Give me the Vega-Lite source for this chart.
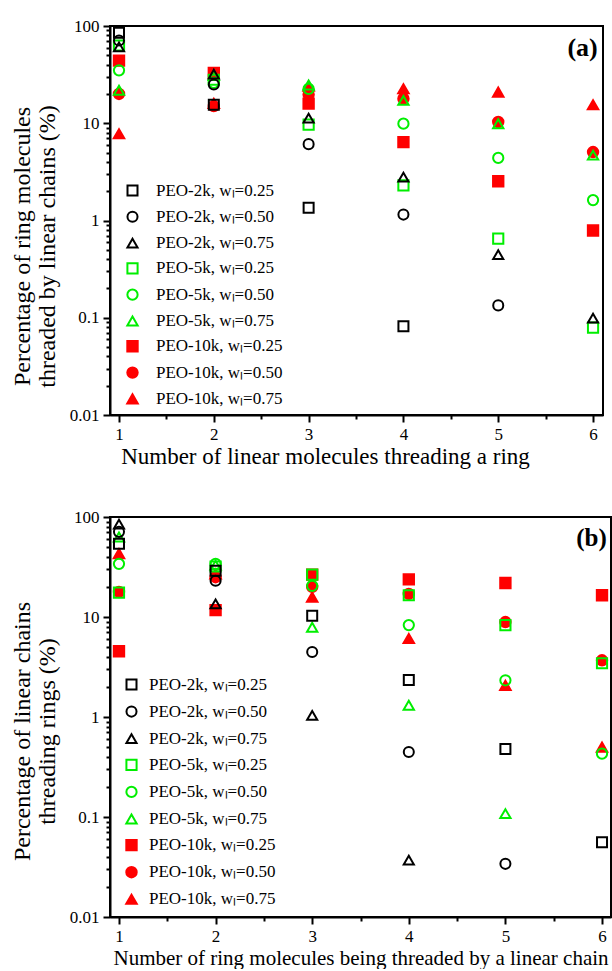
{
  "$schema": "https://vega.github.io/schema/vega-lite/v6.json",
  "background": "white",
  "padding": {"left": 9, "top": 16, "right": 0, "bottom": 0},
  "config": {
    "view": {"stroke": "black", "strokeWidth": 2},
    "font": "Liberation Serif",
    "axis": {"domainColor": "black", "domainWidth": 2, "tickColor": "black", "tickWidth": 2, "labelColor": "black", "titleColor": "black", "labelFont": "Liberation Serif", "titleFont": "Liberation Serif", "labelFontSize": 17, "titleFontWeight": "normal", "grid": false, "labelPadding": 4}
  },
  "resolve": {
    "scale": {"x": "independent", "y": "independent", "shape": "independent", "stroke": "independent", "fill": "independent", "size": "independent"},
    "legend": {"shape": "independent", "stroke": "independent", "fill": "independent", "size": "independent"}
  },
  "datasets": {
    "a": [
      {"series": "PEO-10k, wₗ=0.25", "n": 1, "p": 44}, {"series": "PEO-10k, wₗ=0.25", "n": 2, "p": 33}, {"series": "PEO-10k, wₗ=0.25", "n": 3, "p": 15.9}, {"series": "PEO-10k, wₗ=0.25", "n": 4, "p": 6.4}, {"series": "PEO-10k, wₗ=0.25", "n": 5, "p": 2.53}, {"series": "PEO-10k, wₗ=0.25", "n": 6, "p": 0.79},
      {"series": "PEO-10k, wₗ=0.50", "n": 1, "p": 20}, {"series": "PEO-10k, wₗ=0.50", "n": 2, "p": 15}, {"series": "PEO-10k, wₗ=0.50", "n": 3, "p": 19.7}, {"series": "PEO-10k, wₗ=0.50", "n": 4, "p": 17.9}, {"series": "PEO-10k, wₗ=0.50", "n": 5, "p": 10.3}, {"series": "PEO-10k, wₗ=0.50", "n": 6, "p": 5.06},
      {"series": "PEO-10k, wₗ=0.75", "n": 1, "p": 7.8}, {"series": "PEO-10k, wₗ=0.75", "n": 2, "p": 16}, {"series": "PEO-10k, wₗ=0.75", "n": 3, "p": 24}, {"series": "PEO-10k, wₗ=0.75", "n": 4, "p": 22.6}, {"series": "PEO-10k, wₗ=0.75", "n": 5, "p": 20.9}, {"series": "PEO-10k, wₗ=0.75", "n": 6, "p": 15.5},
      {"series": "PEO-5k, wₗ=0.25", "n": 1, "p": 63}, {"series": "PEO-5k, wₗ=0.25", "n": 2, "p": 28}, {"series": "PEO-5k, wₗ=0.25", "n": 3, "p": 9.7}, {"series": "PEO-5k, wₗ=0.25", "n": 4, "p": 2.3}, {"series": "PEO-5k, wₗ=0.25", "n": 5, "p": 0.65}, {"series": "PEO-5k, wₗ=0.25", "n": 6, "p": 0.079},
      {"series": "PEO-5k, wₗ=0.50", "n": 1, "p": 35}, {"series": "PEO-5k, wₗ=0.50", "n": 2, "p": 26}, {"series": "PEO-5k, wₗ=0.50", "n": 3, "p": 22.6}, {"series": "PEO-5k, wₗ=0.50", "n": 4, "p": 9.9}, {"series": "PEO-5k, wₗ=0.50", "n": 5, "p": 4.4}, {"series": "PEO-5k, wₗ=0.50", "n": 6, "p": 1.62},
      {"series": "PEO-5k, wₗ=0.75", "n": 1, "p": 21.8}, {"series": "PEO-5k, wₗ=0.75", "n": 2, "p": 31}, {"series": "PEO-5k, wₗ=0.75", "n": 3, "p": 24.7}, {"series": "PEO-5k, wₗ=0.75", "n": 4, "p": 17.2}, {"series": "PEO-5k, wₗ=0.75", "n": 5, "p": 9.9}, {"series": "PEO-5k, wₗ=0.75", "n": 6, "p": 4.7},
      {"series": "PEO-2k, wₗ=0.25", "n": 1, "p": 85}, {"series": "PEO-2k, wₗ=0.25", "n": 2, "p": 15.5}, {"series": "PEO-2k, wₗ=0.25", "n": 3, "p": 1.35}, {"series": "PEO-2k, wₗ=0.25", "n": 4, "p": 0.082},
      {"series": "PEO-2k, wₗ=0.50", "n": 1, "p": 71}, {"series": "PEO-2k, wₗ=0.50", "n": 2, "p": 25}, {"series": "PEO-2k, wₗ=0.50", "n": 3, "p": 6.1}, {"series": "PEO-2k, wₗ=0.50", "n": 4, "p": 1.15}, {"series": "PEO-2k, wₗ=0.50", "n": 5, "p": 0.134},
      {"series": "PEO-2k, wₗ=0.75", "n": 1, "p": 61}, {"series": "PEO-2k, wₗ=0.75", "n": 2, "p": 32}, {"series": "PEO-2k, wₗ=0.75", "n": 3, "p": 11.3}, {"series": "PEO-2k, wₗ=0.75", "n": 4, "p": 2.8}, {"series": "PEO-2k, wₗ=0.75", "n": 5, "p": 0.445}, {"series": "PEO-2k, wₗ=0.75", "n": 6, "p": 0.099}
    ],
    "b": [
      {"series": "PEO-10k, wₗ=0.25", "n": 1, "p": 4.54}, {"series": "PEO-10k, wₗ=0.25", "n": 2, "p": 11.7}, {"series": "PEO-10k, wₗ=0.25", "n": 3, "p": 26.5}, {"series": "PEO-10k, wₗ=0.25", "n": 4, "p": 23.8}, {"series": "PEO-10k, wₗ=0.25", "n": 5, "p": 21.9}, {"series": "PEO-10k, wₗ=0.25", "n": 6, "p": 16.5},
      {"series": "PEO-10k, wₗ=0.50", "n": 1, "p": 17.8}, {"series": "PEO-10k, wₗ=0.50", "n": 2, "p": 25}, {"series": "PEO-10k, wₗ=0.50", "n": 3, "p": 20}, {"series": "PEO-10k, wₗ=0.50", "n": 4, "p": 17}, {"series": "PEO-10k, wₗ=0.50", "n": 5, "p": 8.9}, {"series": "PEO-10k, wₗ=0.50", "n": 6, "p": 3.69},
      {"series": "PEO-10k, wₗ=0.75", "n": 1, "p": 43}, {"series": "PEO-10k, wₗ=0.75", "n": 2, "p": 27}, {"series": "PEO-10k, wₗ=0.75", "n": 3, "p": 15.8}, {"series": "PEO-10k, wₗ=0.75", "n": 4, "p": 6.1}, {"series": "PEO-10k, wₗ=0.75", "n": 5, "p": 2.07}, {"series": "PEO-10k, wₗ=0.75", "n": 6, "p": 0.5},
      {"series": "PEO-5k, wₗ=0.25", "n": 1, "p": 17.5}, {"series": "PEO-5k, wₗ=0.25", "n": 2, "p": 32}, {"series": "PEO-5k, wₗ=0.25", "n": 3, "p": 26.5}, {"series": "PEO-5k, wₗ=0.25", "n": 4, "p": 16.5}, {"series": "PEO-5k, wₗ=0.25", "n": 5, "p": 8.3}, {"series": "PEO-5k, wₗ=0.25", "n": 6, "p": 3.45},
      {"series": "PEO-5k, wₗ=0.50", "n": 1, "p": 34}, {"series": "PEO-5k, wₗ=0.50", "n": 2, "p": 34}, {"series": "PEO-5k, wₗ=0.50", "n": 3, "p": 20.5}, {"series": "PEO-5k, wₗ=0.50", "n": 4, "p": 8.3}, {"series": "PEO-5k, wₗ=0.50", "n": 5, "p": 2.33}, {"series": "PEO-5k, wₗ=0.50", "n": 6, "p": 0.43},
      {"series": "PEO-5k, wₗ=0.75", "n": 1, "p": 63}, {"series": "PEO-5k, wₗ=0.75", "n": 2, "p": 33}, {"series": "PEO-5k, wₗ=0.75", "n": 3, "p": 7.9}, {"series": "PEO-5k, wₗ=0.75", "n": 4, "p": 1.31}, {"series": "PEO-5k, wₗ=0.75", "n": 5, "p": 0.108},
      {"series": "PEO-2k, wₗ=0.25", "n": 1, "p": 54}, {"series": "PEO-2k, wₗ=0.25", "n": 2, "p": 29}, {"series": "PEO-2k, wₗ=0.25", "n": 3, "p": 10.3}, {"series": "PEO-2k, wₗ=0.25", "n": 4, "p": 2.35}, {"series": "PEO-2k, wₗ=0.25", "n": 5, "p": 0.48}, {"series": "PEO-2k, wₗ=0.25", "n": 6, "p": 0.056},
      {"series": "PEO-2k, wₗ=0.50", "n": 1, "p": 71}, {"series": "PEO-2k, wₗ=0.50", "n": 2, "p": 23}, {"series": "PEO-2k, wₗ=0.50", "n": 3, "p": 4.47}, {"series": "PEO-2k, wₗ=0.50", "n": 4, "p": 0.447}, {"series": "PEO-2k, wₗ=0.50", "n": 5, "p": 0.034},
      {"series": "PEO-2k, wₗ=0.75", "n": 1, "p": 85}, {"series": "PEO-2k, wₗ=0.75", "n": 2, "p": 13.5}, {"series": "PEO-2k, wₗ=0.75", "n": 3, "p": 1.04}, {"series": "PEO-2k, wₗ=0.75", "n": 4, "p": 0.037}
    ]
  },
  "spacing": 102,
  "bounds": "flush",
  "vconcat": [
    {
      "width": 493,
      "height": 389,
      "layer": [
        {
          "data": {"name": "a"},
          "mark": {"type": "point", "strokeWidth": 2, "opacity": 1},
          "encoding": {
            "x": {"field": "n", "type": "quantitative", "scale": {"domain": [0.905, 6.105], "nice": false, "zero": false},
              "axis": {"values": [1, 1.5, 2, 2.5, 3, 3.5, 4, 4.5, 5, 5.5, 6], "format": "~g", "labelExpr": "datum.value % 1 == 0 ? datum.label : ''", "tickSize": {"condition": {"test": "datum.value % 1 == 0", "value": 7}, "value": 4}, "title": "Number of linear molecules threading a ring", "titleFontSize": 23, "titlePadding": 3, "titleX": 215}},
            "y": {"field": "p", "type": "quantitative", "scale": {"type": "log", "domain": [0.01, 100], "nice": false},
              "axis": {"values": [0.01, 0.02, 0.03, 0.04, 0.05, 0.06, 0.07, 0.08, 0.09, 0.1, 0.2, 0.3, 0.4, 0.5, 0.6, 0.7, 0.8, 0.9, 1, 2, 3, 4, 5, 6, 7, 8, 9, 10, 20, 30, 40, 50, 60, 70, 80, 90, 100], "format": "~g", "labelExpr": "indexof([0.01, 0.1, 1, 10, 100], datum.value) >= 0 ? datum.label : ''", "tickSize": {"condition": {"test": "indexof([0.01, 0.1, 1, 10, 100], datum.value) >= 0", "value": 7}, "value": 4}, "title": ["Percentage of ring molecules", "threaded by linear chains (%)"], "titleFontSize": 24, "titleLineHeight": 25, "titlePadding": 10, "titleY": 220}},
            "shape": {"field": "series", "type": "nominal", "scale": {"domain": ["PEO-2k, wₗ=0.25", "PEO-2k, wₗ=0.50", "PEO-2k, wₗ=0.75", "PEO-5k, wₗ=0.25", "PEO-5k, wₗ=0.50", "PEO-5k, wₗ=0.75", "PEO-10k, wₗ=0.25", "PEO-10k, wₗ=0.50", "PEO-10k, wₗ=0.75"], "range": ["square", "circle", "triangle-up", "square", "circle", "triangle-up", "square", "circle", "triangle-up"]},
              "legend": {"orient": "none", "legendX": 14, "legendY": 156, "title": null, "labelFont": "Liberation Serif", "labelFontSize": 17, "labelColor": "black", "rowPadding": 7.3, "labelOffset": 15, "symbolStrokeWidth": 2, "padding": 0}},
            "stroke": {"field": "series", "type": "nominal", "scale": {"domain": ["PEO-2k, wₗ=0.25", "PEO-2k, wₗ=0.50", "PEO-2k, wₗ=0.75", "PEO-5k, wₗ=0.25", "PEO-5k, wₗ=0.50", "PEO-5k, wₗ=0.75", "PEO-10k, wₗ=0.25", "PEO-10k, wₗ=0.50", "PEO-10k, wₗ=0.75"], "range": ["black", "black", "black", "#00EE00", "#00EE00", "#00EE00", "#FF0000", "#FF0000", "#FF0000"]}},
            "fill": {"field": "series", "type": "nominal", "scale": {"domain": ["PEO-2k, wₗ=0.25", "PEO-2k, wₗ=0.50", "PEO-2k, wₗ=0.75", "PEO-5k, wₗ=0.25", "PEO-5k, wₗ=0.50", "PEO-5k, wₗ=0.75", "PEO-10k, wₗ=0.25", "PEO-10k, wₗ=0.50", "PEO-10k, wₗ=0.75"], "range": ["transparent", "transparent", "transparent", "transparent", "transparent", "transparent", "#FF0000", "#FF0000", "#FF0000"]}},
            "size": {"field": "series", "type": "nominal", "scale": {"domain": ["PEO-2k, wₗ=0.25", "PEO-2k, wₗ=0.50", "PEO-2k, wₗ=0.75", "PEO-5k, wₗ=0.25", "PEO-5k, wₗ=0.50", "PEO-5k, wₗ=0.75", "PEO-10k, wₗ=0.25", "PEO-10k, wₗ=0.50", "PEO-10k, wₗ=0.75"], "range": [100, 110, 150, 100, 110, 150, 100, 110, 150]}}
          }
        },
        {
          "data": {"values": [{"n": 6.05, "p": 60, "label": "(a)"}]},
          "mark": {"type": "text", "align": "right", "baseline": "middle", "fontWeight": "bold", "fontSize": 26, "font": "Liberation Serif", "color": "black"},
          "encoding": {"x": {"field": "n", "type": "quantitative"}, "y": {"field": "p", "type": "quantitative"}, "text": {"field": "label"}}
        }
      ]
    },
    {
      "width": 501,
      "height": 400,
      "layer": [
        {
          "data": {"name": "b"},
          "mark": {"type": "point", "strokeWidth": 2, "opacity": 1},
          "encoding": {
            "x": {"field": "n", "type": "quantitative", "scale": {"domain": [0.907, 6.093], "nice": false, "zero": false},
              "axis": {"values": [1, 1.5, 2, 2.5, 3, 3.5, 4, 4.5, 5, 5.5, 6], "format": "~g", "labelExpr": "datum.value % 1 == 0 ? datum.label : ''", "tickSize": {"condition": {"test": "datum.value % 1 == 0", "value": 7}, "value": 4}, "title": "Number of ring molecules being threaded by a linear chain", "titleFontSize": 21, "titlePadding": 3}},
            "y": {"field": "p", "type": "quantitative", "scale": {"type": "log", "domain": [0.01, 100], "nice": false},
              "axis": {"values": [0.01, 0.02, 0.03, 0.04, 0.05, 0.06, 0.07, 0.08, 0.09, 0.1, 0.2, 0.3, 0.4, 0.5, 0.6, 0.7, 0.8, 0.9, 1, 2, 3, 4, 5, 6, 7, 8, 9, 10, 20, 30, 40, 50, 60, 70, 80, 90, 100], "format": "~g", "labelExpr": "indexof([0.01, 0.1, 1, 10, 100], datum.value) >= 0 ? datum.label : ''", "tickSize": {"condition": {"test": "indexof([0.01, 0.1, 1, 10, 100], datum.value) >= 0", "value": 7}, "value": 4}, "title": ["Percentage of linear chains", "threading rings (%)"], "titleFontSize": 24, "titleLineHeight": 25, "titlePadding": 10, "titleY": 214}},
            "shape": {"field": "series", "type": "nominal", "scale": {"domain": ["PEO-2k, wₗ=0.25", "PEO-2k, wₗ=0.50", "PEO-2k, wₗ=0.75", "PEO-5k, wₗ=0.25", "PEO-5k, wₗ=0.50", "PEO-5k, wₗ=0.75", "PEO-10k, wₗ=0.25", "PEO-10k, wₗ=0.50", "PEO-10k, wₗ=0.75"], "range": ["square", "circle", "triangle-up", "square", "circle", "triangle-up", "square", "circle", "triangle-up"]},
              "legend": {"orient": "none", "legendX": 13, "legendY": 159, "title": null, "labelFont": "Liberation Serif", "labelFontSize": 17, "labelColor": "black", "rowPadding": 8.1, "labelOffset": 9, "symbolStrokeWidth": 2, "padding": 0}},
            "stroke": {"field": "series", "type": "nominal", "scale": {"domain": ["PEO-2k, wₗ=0.25", "PEO-2k, wₗ=0.50", "PEO-2k, wₗ=0.75", "PEO-5k, wₗ=0.25", "PEO-5k, wₗ=0.50", "PEO-5k, wₗ=0.75", "PEO-10k, wₗ=0.25", "PEO-10k, wₗ=0.50", "PEO-10k, wₗ=0.75"], "range": ["black", "black", "black", "#00EE00", "#00EE00", "#00EE00", "#FF0000", "#FF0000", "#FF0000"]}},
            "fill": {"field": "series", "type": "nominal", "scale": {"domain": ["PEO-2k, wₗ=0.25", "PEO-2k, wₗ=0.50", "PEO-2k, wₗ=0.75", "PEO-5k, wₗ=0.25", "PEO-5k, wₗ=0.50", "PEO-5k, wₗ=0.75", "PEO-10k, wₗ=0.25", "PEO-10k, wₗ=0.50", "PEO-10k, wₗ=0.75"], "range": ["transparent", "transparent", "transparent", "transparent", "transparent", "transparent", "#FF0000", "#FF0000", "#FF0000"]}},
            "size": {"field": "series", "type": "nominal", "scale": {"domain": ["PEO-2k, wₗ=0.25", "PEO-2k, wₗ=0.50", "PEO-2k, wₗ=0.75", "PEO-5k, wₗ=0.25", "PEO-5k, wₗ=0.50", "PEO-5k, wₗ=0.75", "PEO-10k, wₗ=0.25", "PEO-10k, wₗ=0.50", "PEO-10k, wₗ=0.75"], "range": [100, 110, 150, 100, 110, 150, 100, 110, 150]}}
          }
        },
        {
          "data": {"values": [{"n": 6.05, "p": 62, "label": "(b)"}]},
          "mark": {"type": "text", "align": "right", "baseline": "middle", "fontWeight": "bold", "fontSize": 25, "font": "Liberation Serif", "color": "black"},
          "encoding": {"x": {"field": "n", "type": "quantitative"}, "y": {"field": "p", "type": "quantitative"}, "text": {"field": "label"}}
        }
      ]
    }
  ]
}
